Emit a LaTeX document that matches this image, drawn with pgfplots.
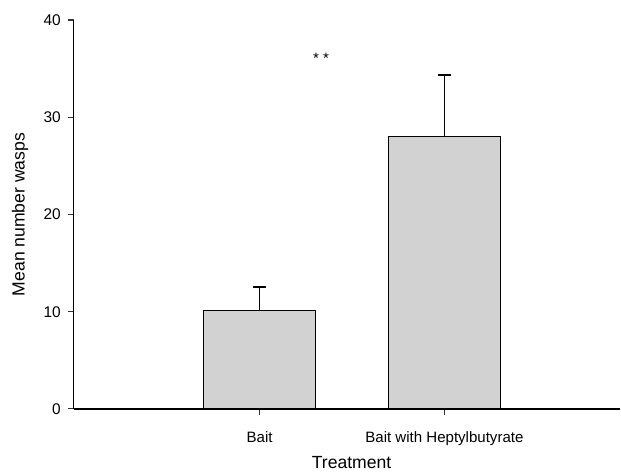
\documentclass[border=0pt]{standalone}
\usepackage{fontspec}
\setmainfont{Liberation Sans}
\usepackage{pgfplots}
\pgfplotsset{compat=1.18}
\definecolor{barfill}{RGB}{210,210,210}
\begin{document}
\begin{tikzpicture}
\begin{axis}[
  name=ax,
  scale only axis,
  width=410.25pt, height=292.1pt,
  xmin=-1.0054, xmax=1.9514,
  ymin=0, ymax=40,
  axis x line=bottom, axis y line=left,
  axis line style={-},
  x axis line style={line width=1.2pt},
  y axis line style={line width=0.8pt},
  xtick={0,1}, xticklabels={Bait, Bait with Heptylbutyrate},
  ytick={0,10,20,30,40},
  tick align=outside,
  major tick length=4.2pt,
  tick style={black!80, line width=0.8pt},
  /pgf/number format/assume math mode=true,
  xticklabel style={anchor=base, yshift=-21.2pt, font=\fontsize{11.3}{13}\selectfont},
  yticklabel style={anchor=east, inner sep=0pt, xshift=-5.5pt, font=\fontsize{11.6}{13}\selectfont},
  xlabel={Treatment},
  xlabel style={at={(axis description cs:0.5,0)}, anchor=base, yshift=-44.6pt, xshift=3.4pt, font=\fontsize{13.2}{15}\selectfont},
  ylabel={Mean number wasps},
  ylabel style={at={(axis description cs:-0.0987,0.5)}, anchor=center, font=\fontsize{13.2}{15}\selectfont},
  clip=false,
]
\addplot[ybar, bar width=84pt, fill=barfill, draw=black, line width=0.75pt,
  error bars/.cd, y dir=plus, y explicit,
  error bar style={line width=0.75pt, black},
  error mark options={rotate=90, mark size=4.9pt, line width=1pt, black}]
  coordinates {(0,10.17) +- (0,2.37) (1,28.06) +- (0,6.27)};
\node[anchor=base, font=\fontsize{11.3}{13}\selectfont] at (axis cs:0.332,35.5) {* *};
\end{axis}
\path ([xshift=-55.5pt,yshift=-46.9pt]ax.south west) rectangle ([yshift=15pt]ax.north east);
\end{tikzpicture}
\end{document}
